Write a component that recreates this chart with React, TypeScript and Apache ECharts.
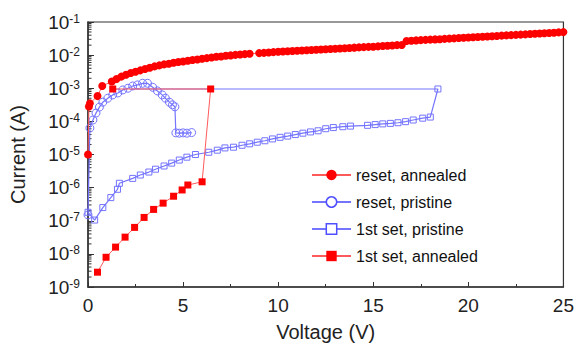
import React, { useEffect, useRef } from "react";
import * as echarts from "echarts";

const xTicks = [0, 5, 10, 15, 20, 25];
const yTickExponents = [-9, -8, -7, -6, -5, -4, -3, -2, -1];

const seriesNames = ["reset, annealed", "reset, pristine", "1st set, pristine", "1st set, annealed"];

const resetAnnealed: [number, number][] = [
  [0, 1e-5], [0.05, 2.8e-4], [0.1, 3.5e-4], [0.5, 5.8e-4], [0.75, 1.17e-3],
  [1.25, 1.6e-3], [1.5, 1.9e-3], [1.75, 2.24e-3], [2.0, 2.57e-3], [2.25, 2.88e-3],
  [2.5, 3.16e-3], [2.75, 3.47e-3], [3.0, 3.8e-3], [3.25, 4.17e-3], [3.5, 4.57e-3],
  [3.75, 4.9e-3], [4.0, 5.25e-3], [4.25, 5.5e-3], [4.5, 5.9e-3], [4.75, 6.2e-3],
  [5.0, 6.45e-3], [5.25, 6.75e-3], [5.5, 7.1e-3], [5.75, 7.4e-3], [6.0, 7.75e-3],
  [6.25, 8.1e-3], [6.5, 8.5e-3], [6.75, 8.9e-3], [7.0, 9.1e-3], [7.25, 9.55e-3],
  [7.5, 9.8e-3], [7.75, 1.02e-2], [8.0, 1.05e-2], [8.25, 1.07e-2], [8.5, 1.1e-2],
  [9.0, 1.15e-2], [9.25, 1.17e-2], [9.5, 1.2e-2], [9.75, 1.23e-2], [10.0, 1.26e-2],
  [10.25, 1.29e-2], [10.5, 1.31e-2], [10.75, 1.33e-2], [11.0, 1.36e-2], [11.25, 1.38e-2],
  [11.5, 1.41e-2], [11.75, 1.43e-2], [12.0, 1.46e-2], [12.25, 1.48e-2], [12.5, 1.51e-2],
  [12.75, 1.53e-2], [13.0, 1.56e-2], [13.25, 1.59e-2], [13.5, 1.62e-2], [13.75, 1.65e-2],
  [14.0, 1.68e-2], [14.25, 1.71e-2], [14.5, 1.74e-2], [14.75, 1.77e-2], [15.0, 1.8e-2],
  [15.25, 1.84e-2], [15.5, 1.88e-2], [15.75, 1.92e-2], [16.0, 1.96e-2], [16.25, 2.0e-2],
  [16.5, 2.03e-2], [16.75, 2.68e-2], [17.0, 2.73e-2], [17.25, 2.78e-2], [17.5, 2.83e-2],
  [17.75, 2.88e-2], [18.0, 2.93e-2], [18.25, 2.98e-2], [18.5, 3.03e-2], [18.75, 3.09e-2],
  [19.0, 3.15e-2], [19.25, 3.21e-2], [19.5, 3.27e-2], [19.75, 3.33e-2], [20.0, 3.4e-2],
  [20.25, 3.46e-2], [20.5, 3.52e-2], [20.75, 3.59e-2], [21.0, 3.66e-2], [21.25, 3.73e-2],
  [21.5, 3.8e-2], [21.75, 3.87e-2], [22.0, 3.94e-2], [22.25, 4.01e-2], [22.5, 4.08e-2],
  [22.75, 4.16e-2], [23.0, 4.24e-2], [23.25, 4.32e-2], [23.5, 4.4e-2], [23.75, 4.48e-2],
  [24.0, 4.57e-2], [24.25, 4.66e-2], [24.5, 4.75e-2], [24.75, 4.85e-2], [25.0, 4.95e-2],
];

const resetPristine: [number, number][] = [
  [0, 1.5e-7], [0.1, 6.3e-5], [0.26, 1.1e-4], [0.42, 1.78e-4], [0.6, 2.7e-4],
  [0.78, 3.8e-4], [1.04, 5.0e-4], [1.3, 6.3e-4], [1.57, 7.2e-4], [1.83, 8.9e-4],
  [2.1, 1.0e-3], [2.35, 1.17e-3], [2.6, 1.26e-3], [2.87, 1.41e-3], [3.13, 1.41e-3],
  [3.4, 1.07e-3], [3.65, 8.3e-4], [3.9, 6.3e-4], [4.07, 5.0e-4], [4.28, 3.8e-4],
  [4.44, 3.16e-4], [4.57, 2.75e-4], [4.62, 4.5e-5], [4.8, 4.4e-5], [5.0, 4.5e-5],
  [5.2, 4.4e-5], [5.45, 4.6e-5],
];

const setPristine: [number, number][] = [
  [0, 1.8e-7], [0.35, 1.05e-7], [0.78, 2.5e-7], [1.2, 5.0e-7], [1.55, 8.9e-7],
  [1.65, 1.35e-6], [2.35, 1.9e-6], [2.75, 2.4e-6], [3.2, 2.95e-6], [3.55, 3.6e-6],
  [4.0, 4.5e-6], [4.4, 5.5e-6], [4.8, 6.8e-6], [5.2, 8.3e-6], [5.65, 1.0e-5],
  [6.35, 1.17e-5], [6.8, 1.35e-5], [7.2, 1.58e-5], [7.65, 1.66e-5], [8.1, 1.9e-5],
  [8.5, 2.1e-5], [8.9, 2.35e-5], [9.3, 2.6e-5], [9.7, 2.95e-5], [10.1, 3.3e-5],
  [10.5, 3.6e-5], [10.9, 4.0e-5], [11.3, 4.4e-5], [11.7, 4.8e-5], [12.1, 5.2e-5],
  [12.5, 6.0e-5], [12.9, 6.5e-5], [13.4, 6.9e-5], [13.8, 7.2e-5], [14.7, 7.6e-5],
  [15.1, 8.0e-5], [15.5, 8.4e-5], [15.9, 8.7e-5], [16.3, 9.1e-5], [16.7, 9.8e-5],
  [17.1, 1.1e-4], [17.6, 1.25e-4], [18.0, 1.35e-4], [18.4, 9.5e-4],
];
const setPristineReturn: [number, number][] = [[2.3, 9.5e-4]];

const setAnnealed: [number, number][] = [
  [0.5, 2.8e-9], [0.95, 7.9e-9], [1.45, 1.6e-8], [1.95, 3.2e-8], [2.45, 6.3e-8],
  [2.95, 1.26e-7], [3.45, 2.2e-7], [3.95, 3.4e-7], [4.5, 5.5e-7], [4.95, 8.5e-7],
  [5.25, 1.2e-6], [6.0, 1.5e-6], [6.45, 9.5e-4], [1.3, 9.5e-4],
];

const minorMultipliers = [2, 3, 4, 5, 6, 7, 8, 9];

const RED = "#ff0000";
const RED_LINE = "#ff5a5a";
const BLUE = "#7474ff";
const FONT = "Liberation Sans, Arial, sans-serif";

export default function App() {
  const ref = useRef<HTMLDivElement>(null);
  useEffect(() => {
    if (!ref.current) return;
    const chart = echarts.init(ref.current, null, { renderer: "svg" });
    const minorTickData: number[][] = [];
    yTickExponents.slice(0, -1).forEach((e) => {
      minorMultipliers.forEach((m) => minorTickData.push([0, m * Math.pow(10, e)]));
    });
    chart.setOption({
      animation: false,
      backgroundColor: "#ffffff",
      grid: {
        left: 85, right: 13, top: 22, bottom: 62,
        show: true, borderColor: "#333", borderWidth: 1.2, backgroundColor: "transparent",
      },
      legend: {
        orient: "vertical",
        left: 311,
        top: 166,
        padding: 0,
        itemWidth: 39,
        itemHeight: 13,
        itemGap: 9,
        textStyle: { fontFamily: FONT, fontSize: 16, color: "#111", lineHeight: 18 },
        data: [
          { name: seriesNames[0] },
          { name: seriesNames[1], itemStyle: { color: "#fff", borderColor: "#4f4fff", borderWidth: 1.5 } },
          { name: seriesNames[2], itemStyle: { color: "#fff", borderColor: "#4f4fff", borderWidth: 1.5 } },
          { name: seriesNames[3] },
        ],
      },
      xAxis: {
        type: "value",
        min: 0, max: 25, interval: 5,
        name: "Voltage (V)",
        nameLocation: "middle",
        nameGap: 35,
        nameTextStyle: { fontFamily: FONT, fontSize: 20, color: "#222" },
        axisLine: { lineStyle: { color: "#333", width: 1.5 } },
        axisTick: { inside: true, length: 5, lineStyle: { color: "#333" } },
        minorTick: { show: true, splitNumber: 2, length: 3, lineStyle: { color: "#333" } },
        axisLabel: {
          fontFamily: FONT, fontSize: 19, color: "#222", margin: 9,
          formatter: (v: number) => (xTicks.includes(v) ? String(v) : ""),
        },
        splitLine: { show: false },
      },
      yAxis: {
        type: "log",
        logBase: 10,
        min: 1e-9, max: 1e-1,
        name: "Current (A)",
        nameLocation: "middle",
        nameGap: 60,
        nameTextStyle: { fontFamily: FONT, fontSize: 20, color: "#222" },
        axisLine: { lineStyle: { color: "#333", width: 1.5 } },
        axisTick: { inside: true, length: 6, lineStyle: { color: "#333" } },
        axisLabel: {
          margin: 8,
          formatter: (v: number) => {
            const e = Math.round(Math.log10(v));
            return "{b|10}{s|" + e + "}";
          },
          rich: {
            b: { fontFamily: FONT, fontSize: 19, color: "#222", verticalAlign: "bottom" },
            s: { fontFamily: FONT, fontSize: 12, color: "#222", verticalAlign: "top" },
          },
        },
        splitLine: { show: false },
      },
      series: [
        {
          name: "minorTicks",
          type: "custom",
          silent: true,
          z: 1,
          data: minorTickData,
          renderItem: (params: any, api: any) => {
            const p = api.coord([0, api.value(1)]);
            return {
              type: "line",
              shape: { x1: p[0], y1: p[1], x2: p[0] + 3.5, y2: p[1] },
              style: { stroke: "#333", lineWidth: 1 },
            };
          },
        },
        {
          name: seriesNames[2],
          type: "line",
          z: 2,
          data: [
            ...setPristine,
            ...setPristineReturn.map((d) => ({ value: d, symbol: "none" })),
          ],
          symbol: "rect",
          symbolSize: 6,
          itemStyle: { color: "rgba(255,255,255,0)", borderColor: BLUE, borderWidth: 1 },
          lineStyle: { color: BLUE, width: 1.2 },
        },
        {
          name: seriesNames[1],
          type: "line",
          z: 3,
          data: resetPristine,
          symbol: "circle",
          symbolSize: 8,
          itemStyle: { color: "rgba(255,255,255,0)", borderColor: BLUE, borderWidth: 1 },
          lineStyle: { color: BLUE, width: 1.2 },
        },
        {
          name: seriesNames[3],
          type: "line",
          z: 4,
          data: setAnnealed,
          symbol: "rect",
          symbolSize: 7,
          itemStyle: { color: RED },
          lineStyle: { color: RED_LINE, width: 1 },
        },
        {
          name: seriesNames[0],
          type: "line",
          z: 5,
          data: resetAnnealed,
          symbol: "circle",
          symbolSize: 8,
          itemStyle: { color: RED },
          lineStyle: { color: RED_LINE, width: 1 },
        },
      ],
    });
    return () => chart.dispose();
  }, []);
  return (
    <div
      ref={ref}
      style={{ position: "absolute", left: 0, top: 0, width: 577, height: 349, background: "#fff" }}
    />
  );
}
